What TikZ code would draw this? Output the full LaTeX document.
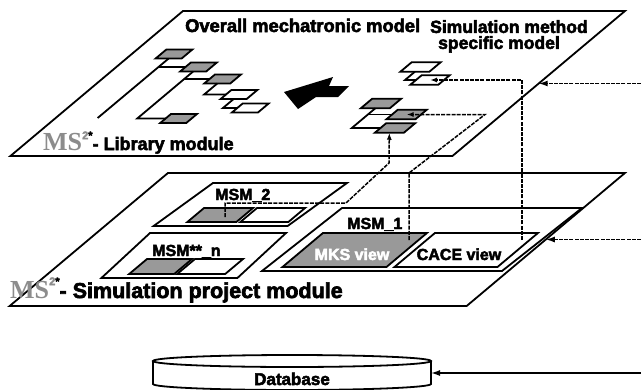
\documentclass[tikz,border=0pt]{standalone}
\usepackage{fontspec}
\setmainfont{Liberation Sans}[BoldFeatures={FakeBold=3}]
\newfontfamily\logofont{Liberation Serif}
\usetikzlibrary{arrows.meta}

\definecolor{boxgray}{gray}{0.6}
\definecolor{logogray}{gray}{0.55}

\newcommand*\tilt{1.19}
\newcommand*\mslogo{{\color{logogray}\logofont\fontsize{26}{26}\selectfont MS}%
    \raisebox{0.6em}{\fontsize{11}{11}\selectfont{\color{logogray}2}*}}

\tikzset{
    slab/.style 2 args={
        draw,
        line width=1.8pt,
        fill=white,
        rectangle,
        inner sep=0pt,
        outer sep=0pt,
        minimum width=#1,
        minimum height=#2
    },
    part/.style 2 args={slab={#1}{#2}, xslant=\tilt},
    tree/.style={line width=1.8pt},
    link/.style={line width=1.5pt, dash pattern=on 4pt off 1.2pt,
        -{Latex[length=7pt,width=5pt]}},
    feed/.style={line width=1.5pt, dash pattern=on 4pt off 1.2pt,
        -{Latex[length=9pt,width=6pt]}},
    heading/.style={font=\bfseries\fontsize{17.5}{16}\selectfont, inner sep=0pt},
    tag/.style={font=\bfseries\fontsize{16}{18}\selectfont, inner sep=0pt, anchor=base west}
}

\begin{document}
\begin{tikzpicture}[x=1pt,y=-1pt]
    \useasboundingbox (0,0) rectangle (641,389);

    % Draw the two module planes.
    \node[part={442}{145}] (libplane) at (317.7,83.5) {};
    \node[part={457}{133}] (prjplane) at (317.3,239.5) {};

    % Library module: the overall mechatronic model as a tree.
    \node[part={26}{9}, fill=boxgray] (b1) at (174,54) {};
    \node[part={26}{9}, fill=boxgray] (b2) at (198.5,67) {};
    \node[part={26}{9}, fill=boxgray] (b3) at (222.6,79) {};
    \node[part={26}{9}] (b4) at (239,94.5) {};
    \node[part={26}{9}] (b5) at (250.3,108) {};
    \node[part={26}{9}, fill=boxgray] (b6) at (178.6,118.5) {};

    \draw[tree] (b1.south) -- ++(-71,59.5);
    \draw[tree] (b1.south) ++(-10.1,8.5) -- (b2.west);
    \draw[tree] (b2.south) -- ++(-55.9,47) -- (b6.west);
    \draw[tree] (b2.south) ++(-8.9,7.5) -- (b3.west);
    \draw[tree] (b3.south) -- ++(-13.1,11) -- (b4.west);
    \draw[tree] (b4.south) -- ++(-10.7,9) -- (b5.west);

    % The big arrow towards the overall model.
    \fill (284,92) -- (333,77) -- (329,86) -- (349,86) -- (338,97)
        -- (316,97) -- (298,109) -- cycle;

    % Library module: the simulation method specific model.
    \node[part={29}{9.5}] (mA) at (420.5,67) {};
    \node[part={28}{9.5}] (mB) at (430,80) {};
    \node[part={29}{9.5}, fill=boxgray] (c1) at (381,103.5) {};
    \node[part={29}{9.5}, fill=boxgray] (c2) at (406.6,114.5) {};
    \node[part={29}{9.5}, fill=boxgray] (c3) at (395,128) {};

    \draw[tree] (mA.south) -- ++(-9.8,8.25) -- (mB.west);
    \draw[tree] (c1.south) -- ++(-23.5,19.75) -- (c3.west);
    \draw[tree] (c1.south) ++(-7.4,6.25) -- (c2.west);

    \node[heading, anchor=base west, font=\bfseries\fontsize{18.3}{16}\selectfont]
        (overall) at (185,32) {Overall mechatronic model};
    \node[heading, anchor=north west, align=left] (specific) at (430,20)
        {Simulation method\\\hspace*{8pt}specific model};
    \node[heading, anchor=base west, font=\bfseries\fontsize{18}{18}\selectfont]
        (liblabel) at (43,150) {\mslogo- Library module};

    % Simulation project module: the MSMs.
    \node[slab={134}{43}, xslant=1.38] (msm2) at (250.3,204.5) {};
    \node[part={49}{14}, fill=boxgray] (g2) at (220.2,215) {};
    \node[part={48}{14}] (w2) at (272.7,215) {};
    \node[tag] (msm2label) at (215,200) {MSM\_2};

    \node[slab={136}{45}, xslant=1.08] (msmn) at (193.7,255.5) {};
    \node[part={45}{15}, fill=boxgray] (gn) at (160.6,266.5) {};
    \node[part={48}{15}] (wn) at (210.1,266.5) {};
    \node[tag] (msmnlabel) at (152,256) {MSM**\_n};

    \node[slab={240}{63}, xslant=1.27] (msm1) at (422,239.5) {};
    \node[part={104}{34}, fill=boxgray] (mks) at (354.7,250) {};
    \node[part={103}{34}] (cace) at (466.2,250) {};
    \node[tag] (msm1label) at (347,229) {MSM\_1};
    \node[tag, anchor=base, white] (mkslabel) at (352,260) {MKS view};
    \node[tag, anchor=base] (cacelabel) at (459,260) {CACE view};

    \node[heading, anchor=base west, font=\bfseries\fontsize{21.5}{20}\selectfont]
        (prjlabel) at (10,298) {\mslogo- Simulation project module};

    % Database.
    \draw[tree] (292,361) ellipse [x radius=139pt, y radius=6pt];
    \draw[tree] (153,361) -- (153,384) arc[start angle=180, end angle=360,
        x radius=139pt, y radius=6pt] -- (431,361);
    \node[heading, anchor=base, font=\bfseries\fontsize{17}{18}\selectfont] (db)
        at (292,385) {Database};

    % Connectors between the views and the library.
    \coordinate (edge) at (641,0);
    \coordinate (dbport) at (431,373);
    \coordinate (cacetap) at (522,240);
    \coordinate (mkstap) at (409,240);
    \coordinate (bendB) at (409,173);
    \coordinate (kneeB) at (485,114.5);
    \coordinate (msm2tap) at (225,217);
    \coordinate (bendC) at (346,203);
    \coordinate (kneeC) at (389,163);

    \draw[link] (cacetap) |- (mB.center);
    \draw[link] (mkstap) -- (bendB) -- (kneeB) -- (c2.center);
    \draw[link] (msm2tap) |- (bendC) -- (kneeC) -- (c3.south);

    % Inputs from the right.
    \draw[feed] (edge |- libplane.east) -- (libplane.east);
    \draw[feed] (edge |- prjplane.east) -- (prjplane.east);
    \draw[feed, solid] (edge |- dbport) -- (dbport);

\end{tikzpicture}
\end{document}
